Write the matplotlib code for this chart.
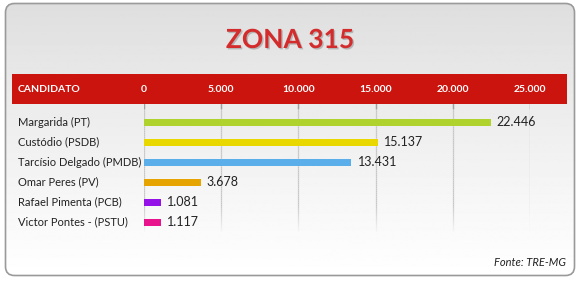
import numpy as np
import matplotlib
matplotlib.use("Agg")
import matplotlib.pyplot as plt
from matplotlib.patches import FancyBboxPatch, Rectangle
from matplotlib.collections import LineCollection
from matplotlib import transforms
import matplotlib.patheffects as pe

# dados
candidatos = ["Margarida (PT)", "Custódio (PSDB)", "Tarcísio Delgado (PMDB)",
              "Omar Peres (PV)", "Rafael Pimenta (PCB)", "Victor Pontes - (PSTU)"]
votos = [22446, 15137, 13431, 3678, 1081, 1117]
cores = ["#afd22c", "#e8d800", "#5aaeea", "#e6a400", "#9412e8", "#e8128c"]
ticks = [0, 5000, 10000, 15000, 20000, 25000]
titulo = "ZONA 315"
fonte = "Fonte: TRE-MG"

W, H = 580, 284
plt.rcParams['font.family'] = ['Lato', 'DejaVu Sans']

fig = plt.figure(figsize=(W / 100, H / 100), dpi=100)

# fundo (coordenadas em pixels)
bg = fig.add_axes([0, 0, 1, 1])
bg.set_xlim(0, W)
bg.set_ylim(H, 0)
bg.axis("off")

card = FancyBboxPatch((5.5, 3.5), 569, 272, boxstyle="round,pad=0,rounding_size=9",
                      facecolor="none", edgecolor="#9a9a9a", linewidth=1.2, zorder=3)
bg.add_patch(card)
grad = np.linspace(0, 1, 256).reshape(-1, 1)
grad = 0.87 + 0.13 * grad ** 0.9
img = bg.imshow(grad, cmap="gray", vmin=0, vmax=1, extent=[5, 575, 276, 3],
                aspect="auto", zorder=1)
img.set_clip_path(card)

bg.add_patch(Rectangle((12, 74), 555, 30, facecolor="#cc140e", edgecolor="none", zorder=2))
bg.text(290, 40, titulo, ha="center", va="center", fontsize=19, color="#d42c2c",
        fontweight="bold", zorder=4,
        path_effects=[pe.withSimplePatchShadow(offset=(1, -1), shadow_rgbFace="#888888", alpha=0.5)])
bg.text(18, 89, "CANDIDATO", ha="left", va="center", fontsize=7.5, color="white",
        fontweight="bold", zorder=4)
bg.text(566, 263, fonte, ha="right", va="center", fontsize=8, color="#222222",
        style="italic", zorder=4)

# grafico
ax = fig.add_axes([144 / W, 1 - 232 / H, (530 - 144) / W, 128 / H])
ax.patch.set_alpha(0)
ax.set_xlim(0, 25000)
ax.set_ylim(5.5, -0.9)
for s in ax.spines.values():
    s.set_visible(False)
ax.set_xticks([])
ax.set_yticks([])

# linhas de grade que somem embaixo
yy = np.linspace(-0.9, 5.5, 65)
alphas = np.clip((5.5 - yy[:-1]) / 1.4, 0, 1)
for t in ticks:
    segs = [[(t, yy[k]), (t, yy[k + 1])] for k in range(len(yy) - 1)]
    cols = [(0.78, 0.78, 0.78, a) for a in alphas]
    ax.add_collection(LineCollection(segs, colors=cols, linewidths=0.9, zorder=0))
    ax.plot([t, t], [-0.9, -0.72], color="#a0a0a0", linewidth=1.0, zorder=1)

y = np.arange(len(candidatos))
ax.barh(y, votos, height=0.35, color=cores, zorder=2)

tr_nome = transforms.blended_transform_factory(fig.transFigure, ax.transData)
for i, (nome, v) in enumerate(zip(candidatos, votos)):
    ax.text(18 / W, i, nome, transform=tr_nome, ha="left", va="center", fontsize=8,
            color="#222222", clip_on=False)
    ax.text(v + 400, i, f"{v:,}".replace(",", "."), ha="left", va="center",
            fontsize=9, color="#222222")

tr = transforms.blended_transform_factory(ax.transData, fig.transFigure)
for t in ticks:
    ax.text(t, 1 - 89 / H, f"{t:,}".replace(",", "."), transform=tr, ha="center",
            va="center", fontsize=7.5, color="white", fontweight="bold", clip_on=False)

fig.savefig("out.png", dpi=100)
